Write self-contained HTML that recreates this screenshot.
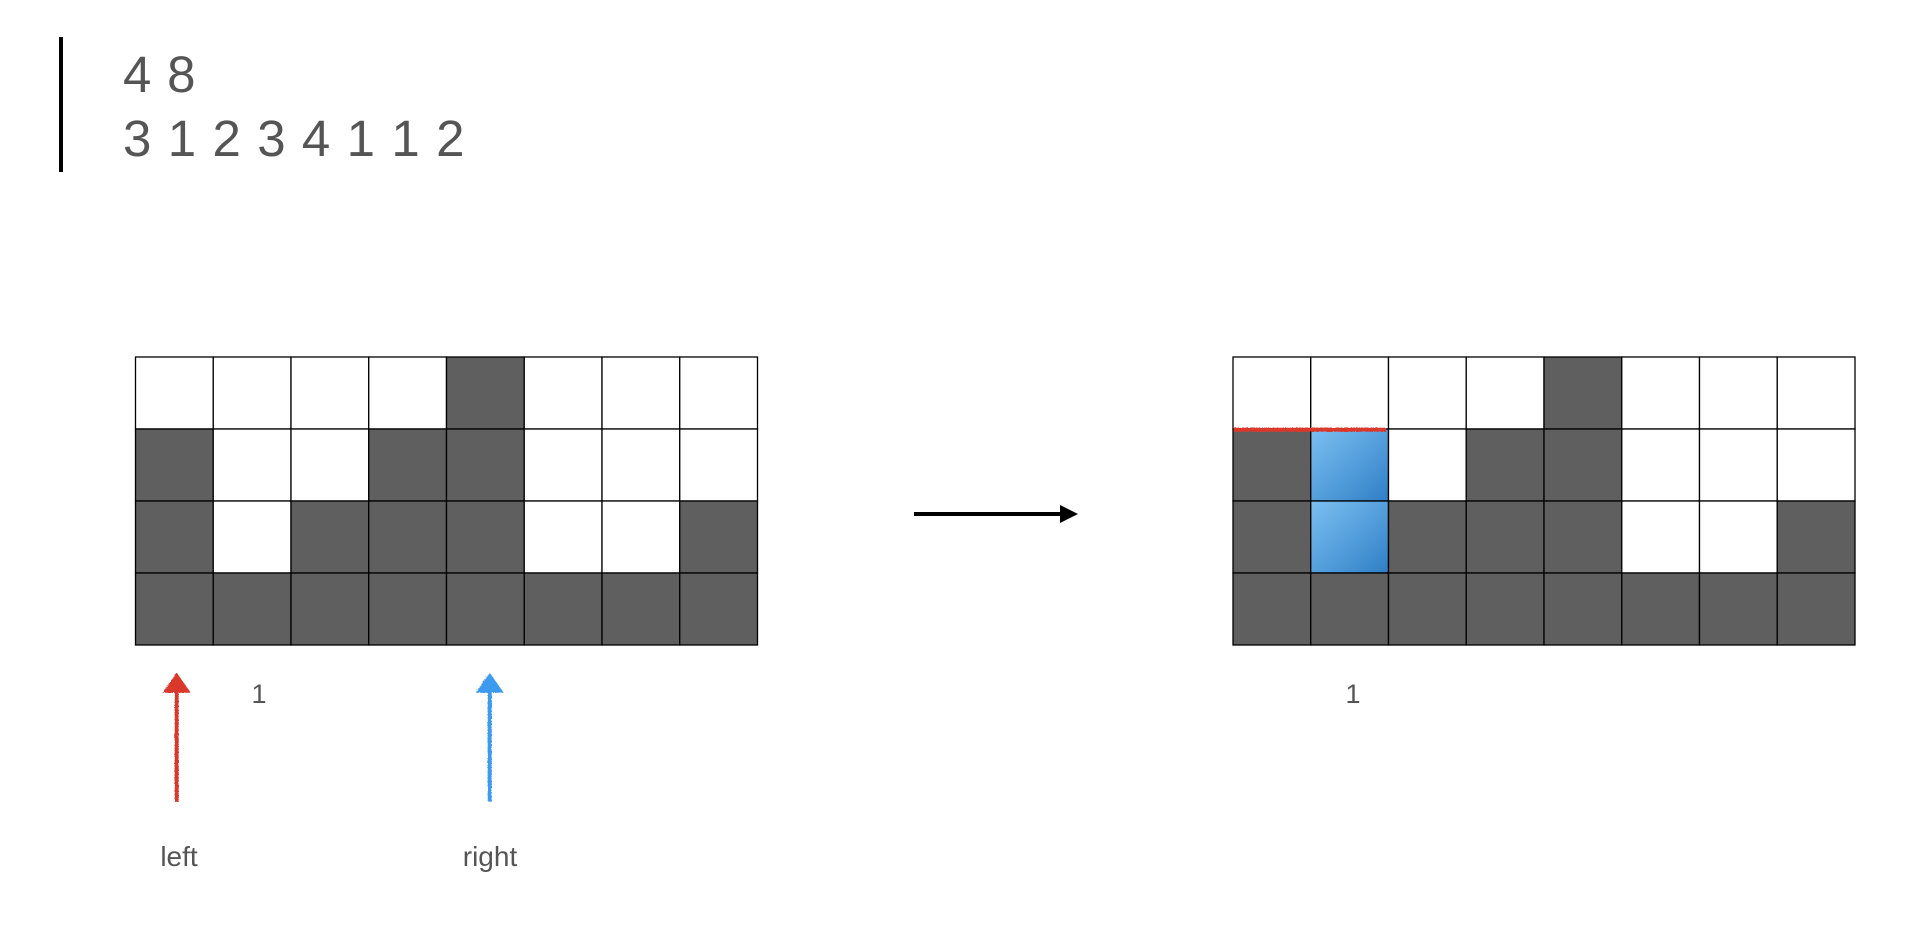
<!DOCTYPE html>
<html><head><meta charset="utf-8"><style>
html,body{margin:0;padding:0;background:#fff;width:1932px;height:948px;overflow:hidden}
svg{display:block}
text{font-family:"Liberation Sans",sans-serif;fill:#555}
</style></head><body>
<svg id="c" width="1932" height="948">
<defs>
<linearGradient id="wg" x1="0" y1="0" x2="1" y2="1"><stop offset="0" stop-color="#7cc0f2"/><stop offset="1" stop-color="#2f7fc6"/></linearGradient>
<filter id="rough" filterUnits="userSpaceOnUse" x="0" y="0" width="1932" height="948"><feTurbulence baseFrequency="0.9" numOctaves="1" result="n"/><feDisplacementMap in="SourceGraphic" in2="n" scale="2"/></filter>
</defs>
<rect x="59" y="37" width="4" height="135" fill="#000"/>
<text x="123" y="92" font-size="51" letter-spacing="0.8">4 8</text>
<text x="123" y="156" font-size="51" letter-spacing="1.1">3 1 2 3 4 1 1 2</text>
<g id="g1"></g>
<g id="g2"></g>
<g>
<line x1="914" y1="514" x2="1062" y2="514" stroke="#000" stroke-width="4"/>
<polygon points="1060,505 1078,514 1060,523" fill="#000"/>
</g>
<g filter="url(#rough)">
<line x1="176" y1="690" x2="176" y2="801" stroke="#d9392b" stroke-width="4"/>
<polygon points="162,692 176,672 190,692" fill="#d9392b"/>
</g>
<g filter="url(#rough)">
<line x1="489" y1="690" x2="489" y2="801" stroke="#3d9bef" stroke-width="4"/>
<polygon points="475,692 489,672 503,692" fill="#3d9bef"/>
</g>
<text x="259" y="703" font-size="27" text-anchor="middle">1</text>
<text x="1353" y="703" font-size="27" text-anchor="middle">1</text>
<text x="179" y="866" font-size="28" text-anchor="middle">left</text>
<text x="490" y="866" font-size="28" text-anchor="middle">right</text>
<rect x="1233" y="427" width="152" height="4" fill="#d9392b" filter="url(#rough)"/>
</svg>
<script>
const heights=[3,1,2,3,4,1,1,2];
const rows=4;
const water=[0,2,0,0,0,0,0,0];
const NS="http://www.w3.org/2000/svg";
const cw=77.75, ch=72;
function draw(gid,x0,y0,withWater){
  const g=document.getElementById(gid);
  for(let i=0;i<heights.length;i++){
    for(let r=0;r<rows;r++){
      const lvl=rows-r;
      const rc=document.createElementNS(NS,'rect');
      rc.setAttribute('x',x0+i*cw);rc.setAttribute('y',y0+r*ch);
      rc.setAttribute('width',cw);rc.setAttribute('height',ch);
      let f='#fff';
      if(lvl<=heights[i]) f='#5f5f5f';
      else if(withWater && lvl<=heights[i]+water[i]) f='url(#wg)';
      rc.setAttribute('fill',f);rc.setAttribute('stroke','#000');rc.setAttribute('stroke-width','1.3');
      
      
      g.appendChild(rc);
    }
  }
}
draw('g1',135.5,357,false);
draw('g2',1233,357,true);
</script>
</body></html>
